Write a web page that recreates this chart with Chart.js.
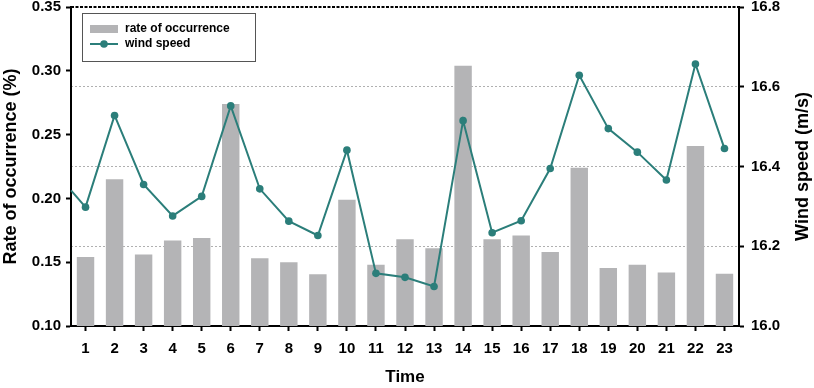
<!DOCTYPE html>
<html>
<head>
<meta charset="utf-8">
<script src="https://cdn.jsdelivr.net/npm/chart.js@4"></script>
<style>
  html, body { margin: 0; padding: 0; background: #fff; }
  #wrap { width: 814px; height: 388px; position: relative; }
</style>
</head>
<body>
<div id="wrap"><canvas id="wind-chart"></canvas></div>
<script>
// data
const timeLabels = ['1','2','3','4','5','6','7','8','9','10','11','12','13','14','15','16','17','18','19','20','21','22','23'];
const occurrence = [0.154, 0.215, 0.156, 0.167, 0.169, 0.274, 0.153, 0.150, 0.1405, 0.199, 0.148, 0.168,
                    0.161, 0.304, 0.168, 0.171, 0.158, 0.224, 0.1455, 0.148, 0.142, 0.241, 0.141];
const windSpeed = [16.298, 16.528, 16.355, 16.276, 16.325, 16.552, 16.344, 16.263, 16.227, 16.441, 16.132, 16.122,
                   16.099, 16.515, 16.234, 16.264, 16.395, 16.629, 16.495, 16.436, 16.366, 16.657, 16.445];
// the line enters from the left edge of the plot with this value
const windAtEdge = 16.34;

const barColor = '#b4b4b6';
const lineColor = '#2b7e7a';
const fontName = '"Liberation Sans", Arial, sans-serif';

// lead-in segment, box legend, dashed top frame, right title read bottom-up
const extras = {
  id: 'extras',
  afterDatasetsDraw(chart) {
    const ctx = chart.ctx;
    const area = chart.chartArea;
    const xs = chart.scales.x, ys = chart.scales.y1;
    ctx.save();
    ctx.strokeStyle = lineColor;
    ctx.lineWidth = 2;
    ctx.beginPath();
    ctx.moveTo(area.left, ys.getPixelForValue(windAtEdge));
    ctx.lineTo(xs.getPixelForValue(0), ys.getPixelForValue(windSpeed[0]));
    ctx.stroke();
    ctx.restore();
  },
  afterDraw(chart) {
    const ctx = chart.ctx;
    const area = chart.chartArea;
    ctx.save();
    // top frame
    ctx.strokeStyle = '#000';
    ctx.lineWidth = 2;
    ctx.setLineDash([3, 1.5]);
    ctx.beginPath();
    ctx.moveTo(area.left, area.top);
    ctx.lineTo(area.right, area.top);
    ctx.stroke();
    ctx.setLineDash([]);

    // legend
    var x = area.left + 11, y = area.top + 6;
    ctx.fillStyle = '#fff';
    ctx.fillRect(x, y, 173, 48);
    ctx.strokeStyle = '#555';
    ctx.lineWidth = 1;
    ctx.strokeRect(x + 0.5, y + 0.5, 173, 48);
    ctx.fillStyle = barColor;
    ctx.fillRect(x + 8, y + 12, 28, 8);
    ctx.strokeStyle = lineColor;
    ctx.lineWidth = 2;
    ctx.beginPath();
    ctx.moveTo(x + 8, y + 31);
    ctx.lineTo(x + 36, y + 31);
    ctx.stroke();
    ctx.fillStyle = lineColor;
    ctx.beginPath();
    ctx.arc(x + 22, y + 31, 3.8, 0, Math.PI * 2);
    ctx.fill();
    ctx.fillStyle = '#000';
    ctx.font = 'bold 12px ' + fontName;
    ctx.textBaseline = 'middle';
    ctx.textAlign = 'left';
    ctx.fillText('rate of occurrence', x + 43, y + 16);
    ctx.fillText('wind speed', x + 43, y + 31);

    // right axis title
    ctx.translate(803, (area.top + area.bottom) / 2);
    ctx.rotate(-Math.PI / 2);
    ctx.textAlign = 'center';
    ctx.font = 'bold 18px ' + fontName;
    ctx.fillText('Wind speed (m/s)', 0, 0);
    ctx.restore();
  }
};

const chartBody = document.getElementById('wind-chart');

const config = {
  type: 'bar',
  data: {
    labels: timeLabels,
    datasets: [{
      type: 'line',
      label: 'wind speed',
      data: windSpeed,
      yAxisID: 'y1',
      borderColor: lineColor,
      backgroundColor: lineColor,
      borderWidth: 2,
      pointRadius: 3.8,
      pointBorderWidth: 0,
      tension: 0,
      order: 0
    }, {
      type: 'bar',
      label: 'rate of occurrence',
      data: occurrence,
      yAxisID: 'y',
      backgroundColor: barColor,
      grouped: false,
      categoryPercentage: 1,
      barPercentage: 0.6,
      order: 1
    }]
  },
  options: {
    responsive: true,
    maintainAspectRatio: false,
    animation: false,
    layout: { padding: { top: 7, left: 0, right: 0, bottom: 0 } },
    plugins: { legend: { display: false }, tooltip: { enabled: false } },
    scales: {
      x: {
        type: 'category',
        position: 'bottom',
        offset: true,
        grid: { offset: false, drawOnChartArea: false, tickLength: 5, tickWidth: 2, tickColor: '#000' },
        border: { color: '#000', width: 2 },
        ticks: { color: '#000', padding: 9, font: { family: fontName, size: 15, weight: 'bold' } },
        title: { display: true, text: 'Time', color: '#000', padding: { top: 0, bottom: 0 },
                 font: { family: fontName, size: 17, weight: 'bold' } },
        afterFit: function(s){ s.height = 62; s.paddingLeft = 0; s.paddingRight = 0; }
      },
      y: {
        position: 'left',
        min: 0.10,
        max: 0.35,
        grid: { drawOnChartArea: false, tickLength: 5, tickWidth: 2, tickColor: '#000' },
        border: { color: '#000', width: 2 },
        ticks: {
          stepSize: 0.05,
          color: '#000',
          padding: 5,
          font: { family: fontName, size: 15, weight: 'bold' },
          callback: function(v){ return v.toFixed(2); }
        },
        title: { display: true, text: 'Rate of occurrence (%)', color: '#000', padding: { top: 0, bottom: 0 },
                 font: { family: fontName, size: 18, weight: 'bold' } },
        afterFit: function(s){ s.width = 71; s.paddingTop = 7; s.paddingBottom = 0; }
      },
      y1: {
        position: 'right',
        min: 16.0,
        max: 16.8,
        grid: {
          drawOnChartArea: true,
          color: function(c){
            var v = c.tick ? c.tick.value : 0;
            return (v > 16.01 && v < 16.79) ? '#b0b0b0' : 'rgba(0,0,0,0)';
          },
          lineWidth: 1,
          tickLength: 5,
          tickWidth: 2,
          tickColor: '#000'
        },
        border: { color: '#000', width: 2, dash: [2, 2] },
        ticks: {
          stepSize: 0.2,
          color: '#000',
          padding: 7,
          font: { family: fontName, size: 15, weight: 'bold' },
          callback: function(v){ return v.toFixed(1); }
        },
        afterFit: function(s){ s.width = 75; s.paddingTop = 7; s.paddingBottom = 0; }
      }
    }
  },
  plugins: [extras]
};

const myChart = new Chart(chartBody, config);
</script>
</body>
</html>
